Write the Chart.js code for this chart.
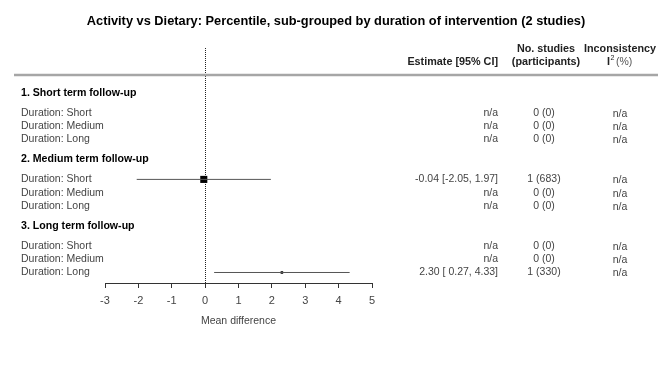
<!DOCTYPE html>
<html lang="en">
<head>
  <meta charset="UTF-8">
  <title>Activity vs Dietary forest plot</title>
  <script src="https://cdn.jsdelivr.net/npm/chart.js"></script>
  <style>
    html, body { margin: 0; padding: 0; background: #fff; }
    #wrap { width: 672px; height: 373px; position: relative; }
  </style>
</head>
<body>
  <div id="wrap"><canvas id="forestChart"></canvas></div>

  <script>
    // data
    const groups = ['1. Short term follow-up', '2. Medium term follow-up', '3. Long term follow-up'];
    const durations = ['Duration: Short', 'Duration: Medium', 'Duration: Long'];
    const estimates = [null, null, null, -0.04, null, null, null, null, 2.30];
    const ciLow = [null, null, null, -2.05, null, null, null, null, 0.27];
    const ciHigh = [null, null, null, 1.97, null, null, null, null, 4.33];
    const studies = [0, 0, 0, 1, 0, 0, 0, 0, 1];
    const participants = [0, 0, 0, 683, 0, 0, 0, 0, 330];
    const xTicks = [-3, -2, -1, 0, 1, 2, 3, 4, 5];

    // row layout (in row units)
    const groupRow = g => g * 5;
    const subRow = (g, k) => g * 5 + 1.5 + k;

    const fmt = v => (v < 0 ? '' : ' ') + v.toFixed(2);

    const ciSets = [];
    const points = [];
    const boxSizes = [];
    estimates.forEach((est, i) => {
      if (est === null) return;
      const row = subRow(Math.floor(i / 3), i % 3);
      ciSets.push({
        type: 'line',
        data: [{ x: ciLow[i], y: row }, { x: ciHigh[i], y: row }],
        borderColor: '#555',
        borderWidth: 1,
        pointRadius: 0
      });
      points.push({ x: est, y: row });
      boxSizes.push(participants[i] > 500 ? 5 : 1.8);
    });

    const textPlugin = {
      id: 'forestText',
      beforeDatasetsDraw(chart) {
        const { ctx, chartArea, scales: { x } } = chart;
        ctx.save();
        ctx.strokeStyle = '#222';
        ctx.lineWidth = 1;
        ctx.setLineDash([1, 1]);
        const x0 = Math.round(x.getPixelForValue(0)) + 0.5;
        ctx.beginPath();
        ctx.moveTo(x0, chartArea.top);
        ctx.lineTo(x0, chartArea.bottom);
        ctx.stroke();
        ctx.restore();
      },
      afterDraw(chart) {
        const { ctx, scales: { y } } = chart;
        const py = v => y.getPixelForValue(v);
        ctx.save();
        ctx.textBaseline = 'middle';
        const font = "'Liberation Sans', Arial, sans-serif";

        // title
        ctx.fillStyle = '#000';
        ctx.font = 'bold 12.8px ' + font;
        ctx.textAlign = 'center';
        ctx.fillText('Activity vs Dietary: Percentile, sub-grouped by duration of intervention (2 studies)', 336, 21);

        // column headers
        ctx.font = 'bold 10.8px ' + font;
        ctx.fillStyle = '#222';
        ctx.textAlign = 'right';
        ctx.fillText('Estimate [95% CI]', 498, py(-2.33));
        ctx.textAlign = 'center';
        ctx.fillText('No. studies', 546, py(-3.31));
        ctx.fillText('(participants)', 546, py(-2.33));
        ctx.fillText('Inconsistency', 620, py(-3.31));
        ctx.textAlign = 'left';
        ctx.fillText('I', 607, py(-2.33));
        ctx.font = '7px ' + font;
        ctx.fillText('2', 610.5, py(-2.33) - 4);
        ctx.font = '10.5px ' + font;
        ctx.fillStyle = '#555';
        ctx.fillText('(%)', 616, py(-2.33));

        // header rule
        ctx.strokeStyle = '#a6a6a6';
        ctx.lineWidth = 2.5;
        ctx.beginPath();
        ctx.moveTo(14, py(-1.35));
        ctx.lineTo(658, py(-1.35));
        ctx.stroke();

        groups.forEach((g, gi) => {
          ctx.font = 'bold 10.6px ' + font;
          ctx.fillStyle = '#000';
          ctx.textAlign = 'left';
          ctx.fillText(g, 21, py(groupRow(gi)));
          durations.forEach((d, k) => {
            const i = gi * 3 + k;
            const yy = py(subRow(gi, k));
            ctx.font = '10.5px ' + font;
            ctx.fillStyle = '#444';
            ctx.textAlign = 'left';
            ctx.fillText(d, 21, yy);
            ctx.textAlign = 'right';
            const est = estimates[i] === null ? 'n/a'
              : estimates[i].toFixed(2) + ' [' + fmt(ciLow[i]) + ', ' + ciHigh[i].toFixed(2) + ']';
            ctx.fillText(est, 498, yy);
            ctx.textAlign = 'center';
            ctx.fillText(studies[i] + ' (' + participants[i] + ')', 544, yy);
            ctx.fillText('n/a', 620, yy + 1);
          });
        });
        ctx.restore();
      }
    };

    new Chart(document.getElementById('forestChart'), {
      type: 'scatter',
      data: {
        datasets: [
          ...ciSets,
          {
            type: 'scatter',
            data: points,
            backgroundColor: '#000',
            borderWidth: 0,
            pointStyle: 'rect',
            pointRadius: ctx => boxSizes[ctx.dataIndex]
          }
        ]
      },
      options: {
        responsive: true,
        maintainAspectRatio: false,
        animation: false,
        layout: { padding: { left: 105, right: 300, top: 48, bottom: 0 } },
        plugins: { legend: { display: false }, tooltip: { enabled: false } },
        scales: {
          x: {
            type: 'linear',
            min: -3,
            max: 5,
            afterBuildTicks: s => { s.ticks = xTicks.map(v => ({ value: v })); },
            afterFit: s => { s.height = 90; },
            grid: { drawOnChartArea: false, drawTicks: true, tickLength: 5, tickColor: '#333' },
            border: { color: '#333', width: 1 },
            ticks: {
              padding: 6,
              color: '#444',
              font: { family: "'Liberation Sans', Arial, sans-serif", size: 11 }
            },
            title: {
              display: true,
              text: 'Mean difference',
              color: '#444',
              font: { family: "'Liberation Sans', Arial, sans-serif", size: 10.5 },
              padding: { top: 0, bottom: 46 }
            }
          },
          y: {
            type: 'linear',
            display: false,
            reverse: true,
            min: -3.38,
            max: 14.29
          }
        }
      },
      plugins: [textPlugin]
    });
  </script>
</body>
</html>
